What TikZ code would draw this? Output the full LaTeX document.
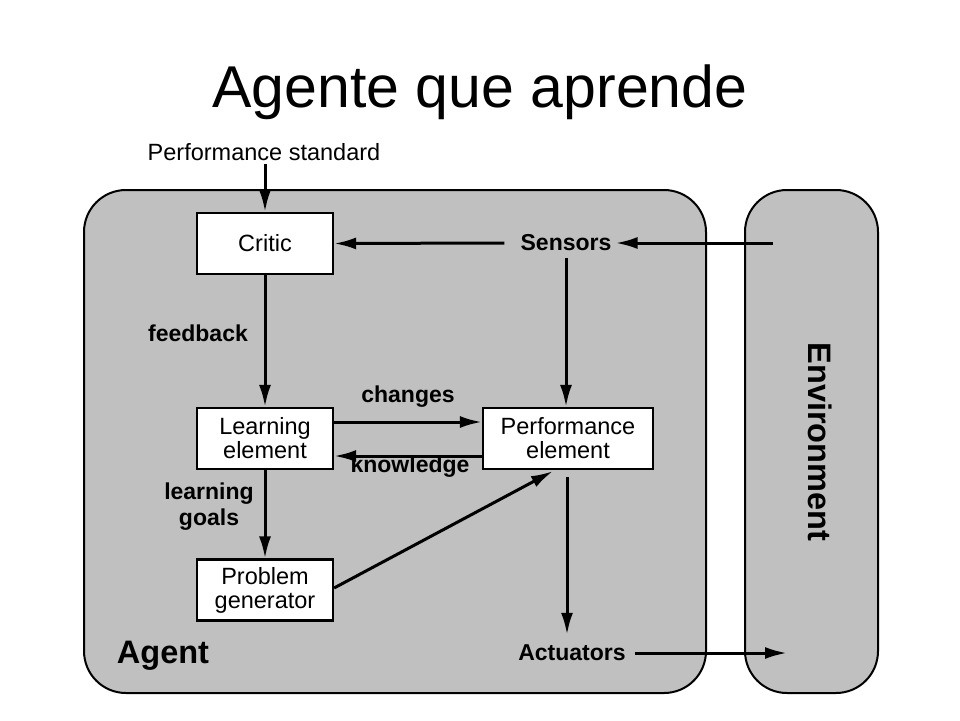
\documentclass[tikz,border=0pt]{standalone}
\usepackage{fontspec}
\setmainfont{Liberation Sans}
\usetikzlibrary{arrows.meta}
\definecolor{agentgray}{RGB}{192,192,192}
\tikzset{
  blk/.style={draw=black, line width=2.2pt, fill=white, minimum width=136pt, minimum height=61pt, inner sep=0pt, align=center, font=\fontsize{23.5}{24}\selectfont},
  lbl/.style={inner sep=0pt, align=center, font=\fontsize{23}{26}\selectfont\bfseries},
  conn/.style={line width=3pt, -{Latex[length=22pt,width=12pt]}},
  region/.style={draw=black, line width=2pt, fill=agentgray, rounded corners=42pt}
}
\begin{document}
\begin{tikzpicture}[x=1pt,y=-1pt]
\useasboundingbox (0,0) rectangle (960,720);
\fill[white] (0,0) rectangle (960,720);
% title
\node[inner sep=0pt, font=\fontsize{59}{60}\selectfont] (title) at (480,92) {Agente que aprende};
% regions
\draw[region] (84,190) rectangle (706,693);
\draw[region] (745,190) rectangle (878,693);
\node[lbl, font=\fontsize{32.5}{34}\selectfont\bfseries] (agent) at (163,656) {Agent};
\node[lbl, rotate=-90, font=\fontsize{32.5}{34}\selectfont\bfseries] (env) at (820,442) {Environment};
% boxes
\node[blk] (critic) at (265,243.5) {Critic};
\node[blk] (learn) at (265,438.5) {Learning\\element};
\node[blk, minimum width=170pt] (perf) at (568,438.5) {Performance\\element};
\node[blk] (prob) at (265,590) {Problem\\generator};
% labels
\node[inner sep=0pt, font=\fontsize{23.5}{24}\selectfont] (pstd) at (264,152) {Performance standard};
\node[lbl] (sensors) at (566,243) {Sensors};
\node[lbl] (act) at (572,653) {Actuators};
\node[lbl] (fb) at (198,333) {feedback};
\node[lbl] (lg) at (209,507) {learning\\goals};
\node[lbl] (chg) at (408,397) {changes};
\node[lbl] (know) at (410,467) {knowledge};
% free ends
\coordinate (envin) at (773,243);
\coordinate (envout) at (787,653);
% connectors
\draw[conn] ([yshift=-3pt]pstd.south -| critic.north) -- (critic.north);
\draw[conn] (envin) -- ([xshift=4pt]sensors.east);
\draw[conn] ([xshift=-16pt]sensors.west) -- (critic.east);
\draw[conn] ([yshift=-7pt]sensors.south) -- (sensors.south |- perf.north);
\draw[conn] (critic.south) -- (learn.north);
\draw[conn] ([yshift=16.5pt]learn.east) -- ([yshift=16.5pt]perf.west);
\draw[conn] ([yshift=-17.5pt]perf.west) -- ([yshift=-17.5pt]learn.east);
\draw[conn] (learn.south) -- (prob.north);
\draw[conn] ([yshift=2pt]prob.east) -- ([xshift=-15pt,yshift=-1pt]perf.south);
\draw[conn] ([xshift=-1pt,yshift=-7pt]perf.south) -- ([xshift=-1pt,yshift=10pt]perf.south |- act.north);
\draw[conn] ([xshift=9pt]act.east) -- (envout);
\end{tikzpicture}
\end{document}
